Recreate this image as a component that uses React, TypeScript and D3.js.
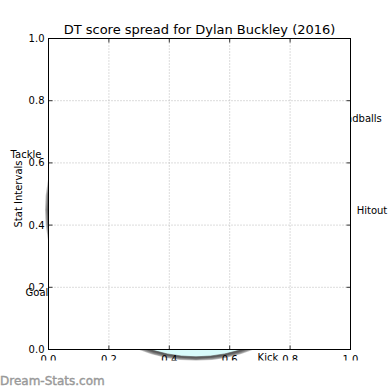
import React, { useEffect, useRef } from "react";
import * as d3 from "d3";

// stat categories around the spread, with where their labels sit
const categories = ["Handballs", "Hitout", "Kick", "Goal", "Tackle"];
const labelAngles = [60.5, 90, 154, 242.7, 288.2];
const labelDist = [185, 176, 164, 179, 179];

// spread layers (relative radius), outer shadow rings then the fill
const shadowLayers = [1.0, 0.994, 0.988, 0.982];
const fillLayer = 0.972;

const ticks = [0, 0.2, 0.4, 0.6, 0.8, 1.0];

const W = 390, H = 390;

export default function App() {
  const svgRef = useRef<SVGSVGElement>(null);

  useEffect(() => {
    document.body.style.margin = "0";
    const svg = d3.select(svgRef.current);
    svg.selectAll("*").remove();

    const font = "DejaVu Sans, sans-serif";
    const x = d3.scaleLinear().domain([0, 1]).range([48.5, 350.5]);
    const y = d3.scaleLinear().domain([0, 1]).range([349.5, 38.5]);
    const r = d3.scaleLinear().domain([0, 1]).range([0, 151]);
    const cx = 196, cy = 210;

    svg.append("rect").attr("width", W).attr("height", H).attr("fill", "white");

    // spread circles (mostly hidden behind the axes)
    const spread = svg.append("g").attr("transform", `translate(${cx},${cy})`);
    spread.selectAll(".shadow")
      .data(shadowLayers)
      .enter()
      .append("circle")
      .attr("r", d => r(d))
      .attr("fill", "#333")
      .attr("fill-opacity", 0.32);
    spread.append("circle")
      .attr("r", r(fillLayer))
      .attr("fill", "#d8fbfb")
      .attr("stroke", "#555")
      .attr("stroke-width", 0.6);

    // category labels
    svg.append("g")
      .selectAll("text")
      .data(categories)
      .enter()
      .append("text")
      .attr("x", (d, i) => cx + labelDist[i] * Math.sin(labelAngles[i] * Math.PI / 180))
      .attr("y", (d, i) => cy - labelDist[i] * Math.cos(labelAngles[i] * Math.PI / 180))
      .attr("dy", "0.35em")
      .attr("text-anchor", "middle")
      .style("font-family", font)
      .style("font-size", "10px")
      .text(d => d);

    // axes background
    svg.append("rect")
      .attr("x", x(0)).attr("y", y(1))
      .attr("width", x(1) - x(0)).attr("height", y(0) - y(1))
      .attr("fill", "white");

    // grid
    const grid = svg.append("g")
      .attr("stroke", "#b8b8b8")
      .attr("stroke-width", 1)
      .attr("stroke-dasharray", "1,2");
    ticks.slice(1, -1).forEach(t => {
      grid.append("line").attr("x1", x(t)).attr("x2", x(t)).attr("y1", y(0)).attr("y2", y(1));
      grid.append("line").attr("x1", x(0)).attr("x2", x(1)).attr("y1", y(t)).attr("y2", y(t));
    });

    // ticks (inward, all sides)
    const tk = svg.append("g").attr("stroke", "#333").attr("stroke-width", 1);
    ticks.forEach(t => {
      tk.append("line").attr("x1", x(t)).attr("x2", x(t)).attr("y1", y(0)).attr("y2", y(0) - 4);
      tk.append("line").attr("x1", x(t)).attr("x2", x(t)).attr("y1", y(1)).attr("y2", y(1) + 4);
      tk.append("line").attr("x1", x(0)).attr("x2", x(0) + 4).attr("y1", y(t)).attr("y2", y(t));
      tk.append("line").attr("x1", x(1)).attr("x2", x(1) - 4).attr("y1", y(t)).attr("y2", y(t));
    });

    // frame
    svg.append("rect")
      .attr("x", x(0)).attr("y", y(1))
      .attr("width", x(1) - x(0)).attr("height", y(0) - y(1))
      .attr("fill", "none")
      .attr("stroke", "black")
      .attr("stroke-width", 1);

    // tick labels
    svg.append("g")
      .selectAll("text")
      .data(ticks)
      .enter()
      .append("text")
      .attr("x", x(0) - 4)
      .attr("y", d => y(d))
      .attr("dy", "0.35em")
      .attr("text-anchor", "end")
      .style("font-family", font)
      .style("font-size", "10px")
      .text(d => d.toFixed(1));
    svg.append("g")
      .selectAll("text")
      .data(ticks)
      .enter()
      .append("text")
      .attr("x", d => x(d))
      .attr("y", y(0) + 13)
      .attr("text-anchor", "middle")
      .style("font-family", font)
      .style("font-size", "10px")
      .text(d => d.toFixed(1));

    // title and y label
    svg.append("text")
      .attr("x", (x(0) + x(1)) / 2)
      .attr("y", 33.5)
      .attr("text-anchor", "middle")
      .style("font-family", font)
      .style("font-size", "13px")
      .text("DT score spread for Dylan Buckley (2016)");
    svg.append("text")
      .attr("transform", `translate(22,${(y(0) + y(1)) / 2}) rotate(-90)`)
      .attr("text-anchor", "middle")
      .style("font-family", font)
      .style("font-size", "10px")
      .text("Stat Intervals");

    // cropped bottom strip + watermark
    svg.append("rect").attr("x", 0).attr("y", 360.5).attr("width", W).attr("height", H - 360.5).attr("fill", "white");
    svg.append("text")
      .attr("x", 0)
      .attr("y", 385)
      .style("font-family", font)
      .style("font-size", "12px")
      .attr("fill", "#999")
      .attr("stroke", "#999")
      .attr("stroke-width", 0.4)
      .text("Dream-Stats.com");
  }, []);

  return <svg ref={svgRef} width={W} height={H} style={{ display: "block" }}></svg>;
}
